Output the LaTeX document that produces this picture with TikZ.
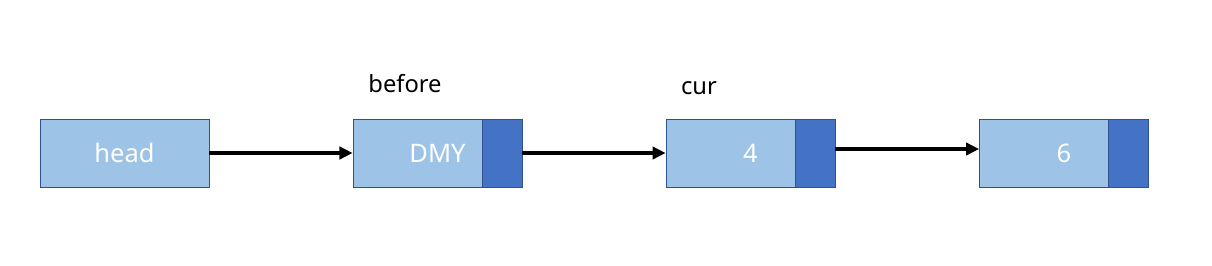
\documentclass[tikz,border=0pt]{standalone}
\usepackage{fontspec}
\setmainfont{Noto Sans}
\usepackage{xcolor}
\usetikzlibrary{arrows.meta}

\definecolor{boxfill}{HTML}{9DC3E6}
\definecolor{ptrfill}{HTML}{4472C4}
\definecolor{boxline}{HTML}{2F528F}

\begin{document}
\begin{tikzpicture}[
    x=0.02cm, y=-0.02cm,
    box/.style={draw=boxline, fill=boxfill, minimum width=3.38cm, minimum height=1.36cm, inner sep=0pt, text=white, font=\fontsize{14.5}{17}\selectfont},
    ptr/.style={draw=boxline, fill=ptrfill, minimum width=0.8cm, minimum height=1.36cm, inner sep=0pt, anchor=east},
    lbl/.style={font=\fontsize{13.5}{16}\selectfont, anchor=base},
    link/.style={-{Triangle[length=7.5pt,width=7pt]}, line width=2pt},
]
\useasboundingbox (0,0) rectangle (1212,265);

% ---- Noeuds de la liste ----
\node[box] (head) at (124.5,153) {head};
\foreach \name/\val/\xc in {dmy/DMY/437.5, cur/4/750.5, last/6/1064} {
    \node[box] (\name) at (\xc,153) {\val};
    \node[ptr] (\name p) at (\name.east) {};
}

% ---- Etiquettes ----
\node[lbl] (lblbefore) at (405,92) {before};
\node[lbl] (lblcur) at (699,94) {cur};

% ---- Liens ----
\draw[link] (head.east) -- (dmy.west);
\draw[link] (dmyp.east) -- (cur.west);
\draw[link] ([yshift=0.08cm]curp.east) -- ([yshift=0.08cm]last.west);

\end{tikzpicture}
\end{document}
